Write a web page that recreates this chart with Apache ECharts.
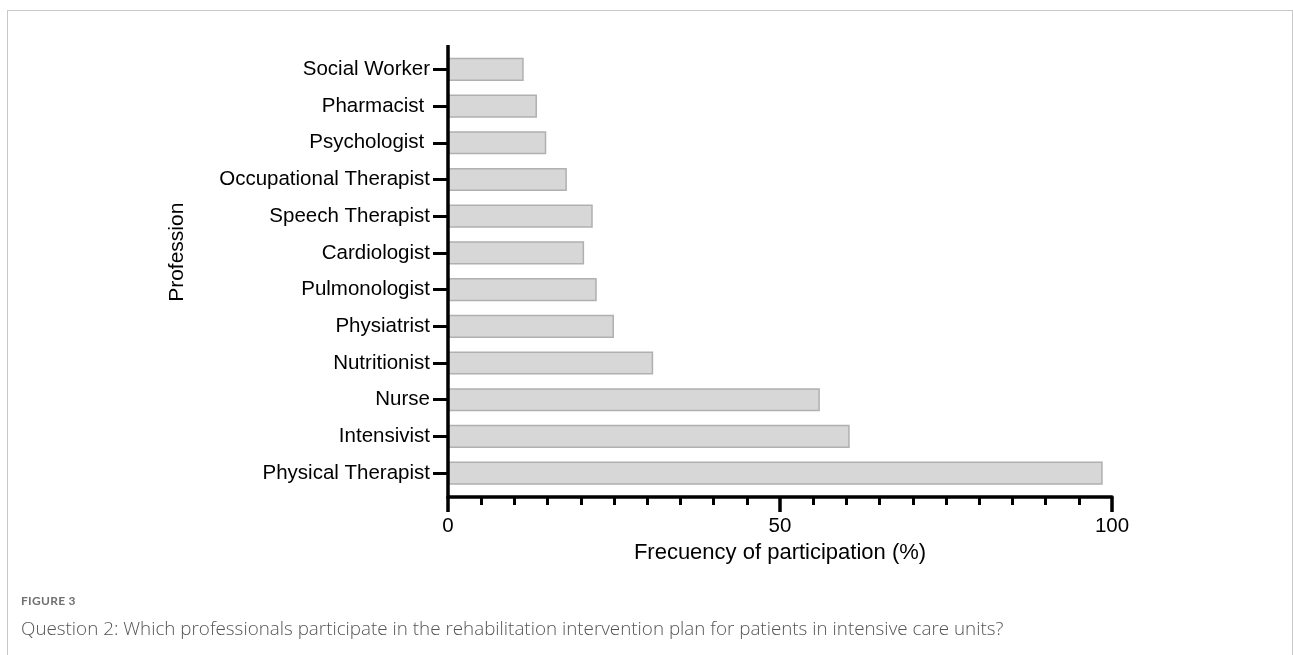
<!DOCTYPE html>
<html>
<head>
<meta charset="utf-8">
<script src="https://cdn.jsdelivr.net/npm/echarts@6/dist/echarts.min.js"></script>
<style>
  html, body { margin: 0; padding: 0; background: #fff; }
  #frame { position: absolute; left: 7px; top: 10px; width: 1286px; height: 700px;
           border: 1px solid #c8c8c8; border-bottom: none; box-sizing: border-box; }
  #chart { position: absolute; left: 0; top: 0; width: 1293px; height: 655px; }
  #figlabel { position: absolute; left: 21px; top: 593px; font-family: Lato, "Open Sans", sans-serif;
              font-size: 12px; font-weight: 700; color: #707070; letter-spacing: 0.3px; }
  #caption { position: absolute; left: 21px; top: 618px; font-family: "Open Sans", Lato, sans-serif;
             font-size: 16px; font-weight: 300; color: #555; white-space: nowrap; }
</style>
</head>
<body>
<div id="frame"></div>
<div id="chart"></div>
<div id="figlabel">FIGURE 3</div>
<div id="caption">Question 2: Which professionals participate in the rehabilitation intervention plan for patients in intensive care units?</div>
<script>
const categories = ["Social Worker", "Pharmacist ", "Psychologist ", "Occupational Therapist",
  "Speech Therapist", "Cardiologist", "Pulmonologist", "Physiatrist", "Nutritionist",
  "Nurse", "Intensivist", "Physical Therapist"];
const participation = [11.4, 13.4, 14.8, 17.9, 21.8, 20.5, 22.4, 25.0, 30.9, 56.0, 60.5, 98.6];
const xTicks = [0, 50, 100];
const xAxisTitle = "Frecuency of participation (%)";
const yAxisTitle = "Profession";

// fit caption line to the reference width
(function () {
  const cap = document.getElementById('caption');
  const w = cap.getBoundingClientRect().width;
  if (w > 0) {
    const fs = Math.max(14, Math.min(19, 16 * 983 / w));
    cap.style.fontSize = fs.toFixed(2) + 'px';
    cap.style.top = (628 - fs * 0.68) + 'px';
  }
})();

const chart = echarts.init(document.getElementById('chart'), null, { renderer: 'canvas' });
const font = '"Liberation Sans", Arial, Helvetica, sans-serif';
chart.setOption({
  animation: false,
  grid: { left: 448, right: 181, top: 51, bottom: 163.5, containLabel: false, outerBoundsMode: 'none' },
  xAxis: {
    type: 'value', min: xTicks[0], max: xTicks[xTicks.length - 1], interval: 50,
    offset: 5.5,
    name: xAxisTitle, nameLocation: 'middle', nameGap: 44,
    nameTextStyle: { fontFamily: font, fontSize: 22, color: '#000' },
    axisLine: { show: true, lineStyle: { color: '#000', width: 3.5 } },
    axisTick: { show: true, length: 15, lineStyle: { color: '#000', width: 3.5 } },
    minorTick: { show: true, splitNumber: 10, length: 8, lineStyle: { color: '#000', width: 3 } },
    axisLabel: { fontFamily: font, fontSize: 20.5, color: '#000', margin: 19 },
    splitLine: { show: false }, minorSplitLine: { show: false }
  },
  yAxis: {
    type: 'category', data: categories, inverse: true,
    name: yAxisTitle, nameLocation: 'middle', nameGap: 260, nameRotate: 90,
    nameTextStyle: { fontFamily: font, fontSize: 21, color: '#000', padding: [0, 0, 0, 38] },
    axisLine: { show: false },
    axisTick: { show: true, length: 15, alignWithLabel: true, lineStyle: { color: '#000', width: 3 } },
    axisLabel: { fontFamily: font, fontSize: 20.5, color: '#000', margin: 18 },
    splitLine: { show: false }
  },
  series: [{
    type: 'bar', data: participation, barCategoryGap: '37%',
    itemStyle: { color: '#d7d7d7', borderColor: '#b0b0b0', borderWidth: 1.5 },
    silent: true
  }]
});

// Extended vertical axis line, derived from the grid rect and the x scale
const gridRect = chart.getModel().getComponent('grid').coordinateSystem.getRect();
const x0 = chart.convertToPixel({ xAxisIndex: 0 }, xTicks[0]);
chart.setOption({
  graphic: [{
    type: 'line', silent: true, z: 10,
    shape: { x1: x0, y1: gridRect.y - 6, x2: x0, y2: gridRect.y + gridRect.height + 5.5 + 1.75 },
    style: { stroke: '#000', lineWidth: 3.5 }
  }]
});
</script>
</body>
</html>
